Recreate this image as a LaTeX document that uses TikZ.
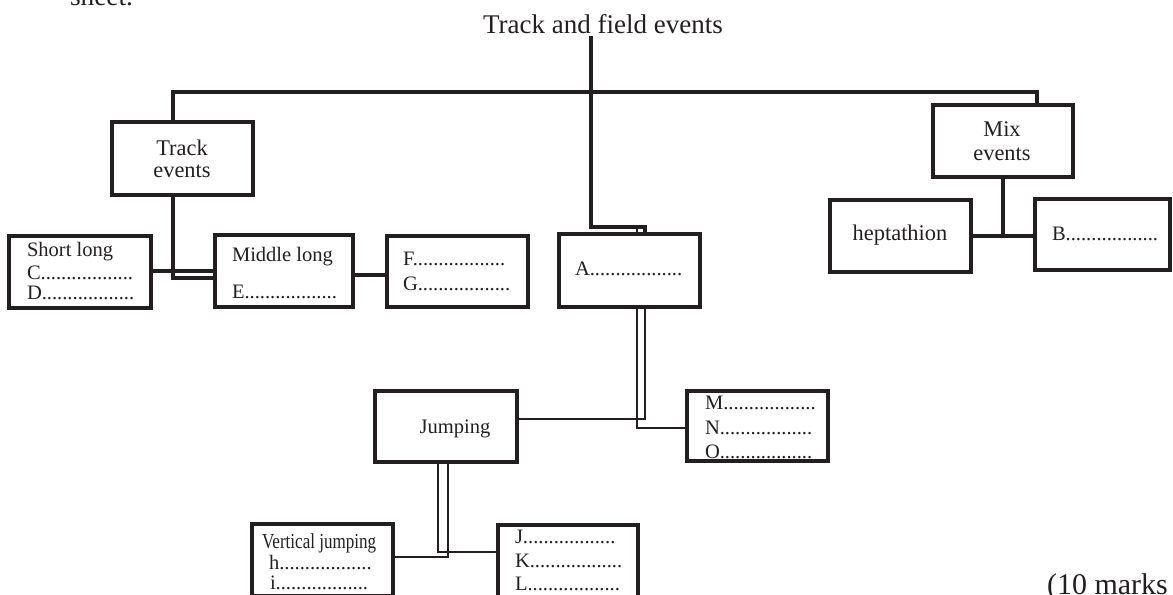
\documentclass[tikz,border=0pt]{standalone}
\usepackage{fontspec}
\setmainfont{Liberation Serif}
\newfontfamily\condfont[FakeStretch=0.8]{Liberation Serif}
\definecolor{ink}{HTML}{231F20}
\begin{document}
\begin{tikzpicture}[x=0.75pt,y=-0.75pt,
  box/.style={draw=ink,line width=3pt,inner sep=0pt,outer sep=0pt},
  wire/.style={draw=ink,line width=2.4pt},
  twin/.style={draw=ink,line width=2pt},
  txt/.style={inner sep=0pt,outer sep=0pt,text=ink,anchor=base west,font=\fontsize{15.4}{18}\selectfont},
  mid/.style={txt,anchor=base,font=\fontsize{16.8}{20}\selectfont},
  head/.style={txt,font=\fontsize{20.5}{24}\selectfont}]
\useasboundingbox (0,0) rectangle (1173,595);

% helper coordinates
\coordinate (tt) at (591,36);
\coordinate (yk) at (0,227);
\coordinate (xa1) at (637,0);
\coordinate (xa2) at (645,0);
\coordinate (xtr) at (173,0);
\coordinate (xm) at (1037,0);
\coordinate (ybus) at (0,92);
\coordinate (y278) at (0,278);
\coordinate (y271) at (0,271);
\coordinate (y275) at (0,275);
\coordinate (y419) at (0,419);
\coordinate (y428) at (0,428);
\coordinate (y236) at (0,236);
\coordinate (xj1) at (438,0);
\coordinate (xj2) at (448,0);
\coordinate (y552) at (0,552);
\coordinate (y557) at (0,557);

% boxes
\node[box,minimum width=105.75pt,minimum height=54.75pt] (trk) at (182.5,158.5) {};
\node[box,minimum width=105pt,minimum height=54pt] (mix) at (1003,141) {};
\node[box,minimum width=105.75pt,minimum height=54pt] (hep) at (900.5,236) {};
\node[box,minimum width=101.25pt,minimum height=53.25pt] (B) at (1102.5,234.5) {};
\node[box,minimum width=106.5pt,minimum height=54pt] (short) at (80,272) {};
\node[box,minimum width=103.5pt,minimum height=54pt] (midl) at (284,271) {};
\node[box,minimum width=105.75pt,minimum height=53.25pt] (FG) at (457.5,271.5) {};
\node[box,minimum width=105.75pt,minimum height=54.75pt] (A) at (629.5,270.5) {};
\node[box,minimum width=106.5pt,minimum height=53.25pt] (jump) at (446,426.5) {};
\node[box,minimum width=105.75pt,minimum height=52.5pt] (MNO) at (757.5,426) {};
\node[box,minimum width=105.75pt,minimum height=54pt] (VJ) at (322.5,560) {};
\node[box,minimum width=105pt,minimum height=54pt] (JKL) at (568,561) {};

% texts
\node[head] (sht) at (70,6) {sheet.};
\node[txt,anchor=base,font=\fontsize{20.25}{24}\selectfont] (ttl) at (603,34) {Track and field events};
\node[mid] (trk1) at (182,156) {Track};
\node[mid] (trk2) at (182,178) {events};
\node[mid] (mix1) at (1002,137) {Mix};
\node[mid] (mix2) at (1002,161) {events};
\node[mid] (hept) at (900,241) {heptathion};
\node[txt] (btx) at (1052,241) {B..................};
\node[txt] (s1) at (27,257) {Short long};
\node[txt] (s2) at (27,279) {C..................};
\node[txt] (s3) at (27,299) {D..................};
\node[txt] (m1) at (232,262) {Middle long};
\node[txt] (m2) at (232,298) {E..................};
\node[txt] (f1) at (403,265) {F..................};
\node[txt] (f2) at (403,290) {G..................};
\node[txt] (atx) at (575,275) {A..................};
\node[txt,anchor=base] (jtx) at (455,433) {Jumping};
\node[txt] (mt1) at (705,409) {M..................};
\node[txt] (mt2) at (705,434) {N..................};
\node[txt] (mt3) at (705,458) {O..................};
\node[txt,font=\condfont\fontsize{16}{18}\selectfont] (v1) at (262,548) {Vertical jumping};
\node[txt] (v2) at (269,569) {h..................};
\node[txt] (v3) at (270,589) {i..................};
\node[txt] (k1) at (515,543) {J..................};
\node[txt] (k2) at (515,567) {K..................};
\node[txt] (k3) at (515,590) {L..................};
\node[head,font=\fontsize{22.5}{26}\selectfont] (marks) at (1047,594) {(10 marks};

% connectors
\draw[wire] (tt) -- (tt |- yk) -| (A.north -| xa2);
\draw[twin] (A.north -| xa1) -- ++(0,-7);
\draw[wire] (trk.north -| xtr) |- (xm |- ybus) -- (mix.north -| xm);
\draw[wire] (trk.south -| xtr) |- (midl.west |- y278);
\draw[wire] (short.east |- y271) -- (midl.west |- y271);
\draw[wire] (midl.east |- y275) -- (FG.west |- y275);
\draw[twin] (A.south -| xa2) |- (jump.east |- y419);
\draw[twin] (A.south -| xa1) |- (MNO.west |- y428);
\draw[wire] (mix.south) -- (mix.south |- y236);
\draw[wire] (hep.east |- y236) -- (B.west |- y236);
\draw[twin] (jump.south -| xj1) |- (JKL.west |- y552);
\draw[twin] (jump.south -| xj2) |- (VJ.east |- y557);
\end{tikzpicture}
\end{document}
